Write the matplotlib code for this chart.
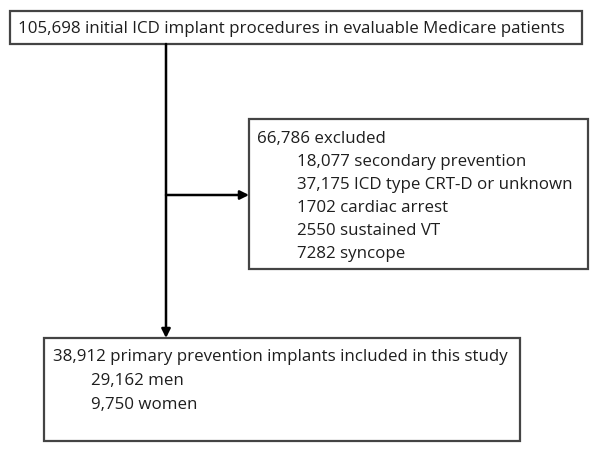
import matplotlib
matplotlib.use("Agg")
import matplotlib.pyplot as plt
from matplotlib.patches import Rectangle

top_label = "105,698 initial ICD implant procedures in evaluable Medicare patients"
excluded_header = "66,786 excluded"
excluded_items = [
    "18,077 secondary prevention",
    "37,175 ICD type CRT-D or unknown",
    "1702 cardiac arrest",
    "2550 sustained VT",
    "7282 syncope",
]
included_header = "38,912 primary prevention implants included in this study"
included_items = ["29,162 men", "9,750 women"]

W, H = 601, 452
fig = plt.figure(figsize=(W / 100, H / 100), dpi=100)
ax = fig.add_axes([0, 0, 1, 1])
ax.set_xlim(0, W)
ax.set_ylim(H, 0)
ax.axis("off")

FONT = "Open Sans"
FS = 12.2
col = "#1e1e1e"
edge = "#444444"

def box(x0, y0, x1, y1):
    ax.add_patch(Rectangle((x0, y0), x1 - x0, y1 - y0, fill=False,
                           edgecolor=edge, linewidth=1.6))

def txt(x, y, s):
    ax.text(x, y, s, fontsize=FS, family=FONT, color=col, va="center", ha="left")

# top box
box(10, 12, 582, 45)
txt(18, 29, top_label)

# vertical line + arrow to bottom box
ax.annotate("", xy=(166, 339), xytext=(166, 45),
            arrowprops=dict(arrowstyle="-|>", color="black", lw=1.8,
                            mutation_scale=13, shrinkA=0, shrinkB=0))
# horizontal arrow to exclusion box
ax.annotate("", xy=(249, 196), xytext=(166, 196),
            arrowprops=dict(arrowstyle="-|>", color="black", lw=1.8,
                            mutation_scale=13, shrinkA=0, shrinkB=0))

# excluded box
box(249, 120, 588, 270)
txt(257, 139, excluded_header)
for i, s in enumerate(excluded_items):
    txt(297, 162 + i * 23.0, s)

# bottom box
box(44, 339, 520, 442)
txt(53, 357, included_header)
for i, s in enumerate(included_items):
    txt(91, 381 + i * 24, s)

fig.savefig("out.png", dpi=100, facecolor="white")
